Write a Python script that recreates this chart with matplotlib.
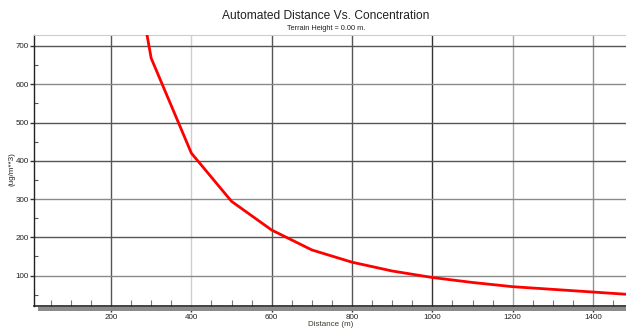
import matplotlib
matplotlib.use("Agg")
import matplotlib.pyplot as plt
from matplotlib.patches import Rectangle
from matplotlib.ticker import MultipleLocator
from matplotlib import font_manager

# Data
distance = [200, 300, 400, 500, 600, 700, 800, 900, 1000, 1100, 1200, 1300, 1400, 1500]
concentration = [1250, 668, 420, 294, 219, 167, 135, 112, 95, 82, 71, 64, 57, 50]

x_ticks = [200, 400, 600, 800, 1000, 1200, 1400]
y_ticks = [100, 200, 300, 400, 500, 600, 700]

title = "Automated Distance Vs. Concentration"
subtitle = "Terrain Height = 0.00 m."
xlabel = "Distance (m)"
ylabel = "(ug/m**3)"

names = {f.name for f in font_manager.fontManager.ttflist}
narrow = 'Liberation Sans Narrow' in names
fam = ['Liberation Sans Narrow', 'Liberation Sans', 'DejaVu Sans'] if narrow else ['Liberation Sans', 'DejaVu Sans']
plt.rcParams['font.family'] = fam
scale = 1.0 if narrow else 0.82

fig = plt.figure(figsize=(6.26, 3.31), dpi=100)
ax = fig.add_axes([0.0551, 0.0764, 1 - 0.0551, 0.8179])

ax.set_xlim(9.5, 1482)
ax.set_ylim(21.3, 728.7)

# grid lines
vcols = ['#555555', '#cfcfcf', '#555555', '#555555', '#333333', '#a8a8a8', '#909090']
for xv, c in zip(x_ticks, vcols):
    ax.axvline(xv, color=c, lw=1.0, zorder=1)
hcols = ['#8a8a8a', '#555555', '#8a8a8a', '#555555', '#555555', '#8a8a8a', '#555555']
for yv, c in zip(y_ticks, hcols):
    ax.axhline(yv, color=c, lw=1.0, zorder=1)

ax.plot(distance, concentration, color='#ff0000', lw=2.0, zorder=3, clip_on=True)

ax.set_xticks(x_ticks)
ax.set_yticks(y_ticks)
ax.xaxis.set_minor_locator(MultipleLocator(50))
ax.yaxis.set_minor_locator(MultipleLocator(50))
ax.tick_params(axis='x', which='major', direction='out', length=4, width=1,
               color='#333333', labelsize=7 * scale, pad=2, labelcolor='#222222')
ax.tick_params(axis='y', which='major', direction='out', length=3, width=1,
               color='#333333', labelsize=7 * scale, pad=1, labelcolor='#222222')
ax.tick_params(axis='x', which='minor', direction='in', length=4, width=0.8, color='#777777')
ax.tick_params(axis='y', which='minor', direction='in', length=3, width=0.8, color='#555555')

ax.spines['right'].set_visible(False)
ax.spines['top'].set_color('#cccccc')
ax.spines['left'].set_color('#222222')
ax.spines['bottom'].set_color('#222222')
ax.spines['left'].set_linewidth(1.0)
ax.spines['bottom'].set_linewidth(1.2)

# shadow bar below the x axis
fig.patches.append(Rectangle((38 / 626, 1 - 310.5 / 331), 1 - 38 / 626, 4 / 331,
                             transform=fig.transFigure, facecolor='#8c8c8c',
                             edgecolor='none', zorder=0))

ax.set_xlabel(xlabel, fontsize=7 * scale, color='#403a30', labelpad=0)
fig.text(12 / 626, 1 - 169 / 331, ylabel, rotation=90, ha='center', va='center',
         fontsize=7 * scale, color='#222222')

fig.text(326 / 626, 1 - 16 / 331, title, ha='center', va='center', fontsize=10.5 * scale, color='#222222')
fig.text(326 / 626, 1 - 28 / 331, subtitle, ha='center', va='center', fontsize=6.5 * scale, color='#222222')

fig.savefig('out.png', dpi=100)
